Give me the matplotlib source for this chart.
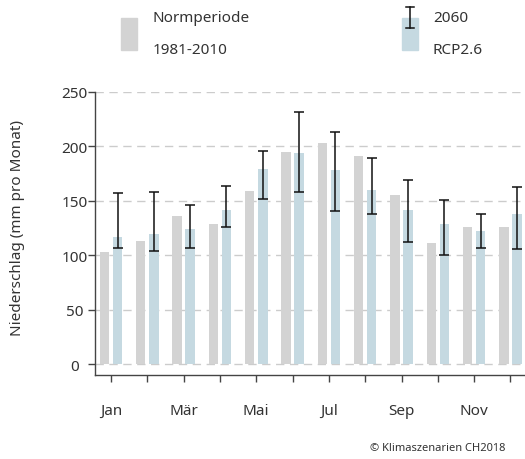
import numpy as np
import matplotlib
matplotlib.use('Agg')
import matplotlib.pyplot as plt
from matplotlib.patches import Rectangle
from matplotlib.lines import Line2D

plt.rcParams['font.family'] = ['Noto Sans', 'DejaVu Sans']

# ------------------------------------------------------------
# Data (mm pro Monat)
# ------------------------------------------------------------
months = np.arange(1, 13)
month_labels = ['Jan', '', 'Mär', '', 'Mai', '', 'Jul', '', 'Sep', '', 'Nov', '']
norm_1981_2010 = [103, 113, 136, 129, 159, 195, 203, 191, 155, 111, 126, 126]
rcp26_2060 = [117, 120, 124, 142, 179, 194, 178, 160, 142, 129, 122, 138]
rcp26_low = [107, 104, 107, 126, 152, 158, 141, 138, 112, 100, 107, 106]
rcp26_high = [157, 158, 146, 164, 196, 232, 213, 189, 169, 151, 138, 163]

GREY = '#d3d3d3'
BLUE = '#c5d9e1'
TXT = '#333333'
FS = 11

fig = plt.figure(figsize=(5.25, 4.6), dpi=100)
ax = fig.add_axes([95/525, 1 - 376/460, 430/525, 283/460])

w = 0.26
ax.bar(months - 0.18, norm_1981_2010, width=w, color=GREY, zorder=2)
ax.bar(months + 0.18, rcp26_2060, width=w, color=BLUE, zorder=2)

lo = np.array(rcp26_2060) - np.array(rcp26_low)
hi = np.array(rcp26_high) - np.array(rcp26_2060)
ax.errorbar(months + 0.18, rcp26_2060, yerr=[lo, hi], fmt='none',
            ecolor='#111111', elinewidth=1.1, capsize=3.8, capthick=1.1, zorder=3)

ax.set_xlim(0.56, 12.4)
ax.set_ylim(-9.8, 250)
ax.set_yticks([0, 50, 100, 150, 200, 250])
ax.set_xticks(months)
ax.set_xticklabels(month_labels)

ax.yaxis.grid(True, color='#cccccc', linestyle=(0, (6, 4)), linewidth=1, zorder=0)
ax.set_axisbelow(True)
for s in ['top', 'right']:
    ax.spines[s].set_visible(False)
for s in ['left', 'bottom']:
    ax.spines[s].set_color('#444444')
    ax.spines[s].set_linewidth(1)

ax.tick_params(axis='both', direction='out', length=5, width=1, color='#444444',
               labelcolor=TXT, labelsize=FS)
ax.tick_params(axis='x', pad=15)
ax.tick_params(axis='y', pad=9.5)
for t in ax.get_yticklabels():
    t.set_ha('center')

ax.set_ylabel('Niederschlag (mm pro Monat)', fontsize=FS, color=TXT)
ax.yaxis.set_label_coords(-0.163, 0.523)

# ------------------------------------------------------------
# Legend (drawn by hand in figure coords)
# ------------------------------------------------------------
fig.add_artist(Rectangle((121/525, 1 - 51/460), 16/525, 32/460,
                         transform=fig.transFigure, color=GREY))
fig.add_artist(Rectangle((402/525, 1 - 51/460), 16/525, 32/460,
                         transform=fig.transFigure, color=BLUE))
ex = 410/525
fig.add_artist(Line2D([ex, ex], [1 - 8/460, 1 - 29/460], transform=fig.transFigure,
                      color='#111111', lw=1.1))
for yy in [8, 29]:
    fig.add_artist(Line2D([ex - 3.8/525, ex + 3.8/525], [1 - yy/460] * 2,
                          transform=fig.transFigure, color='#111111', lw=1.1))

fig.text(153/525, 1 - 19/460, 'Normperiode', fontsize=FS, color=TXT, va='center')
fig.text(153/525, 1 - 50/460, '1981-2010', fontsize=FS, color=TXT, va='center')
fig.text(433/525, 1 - 19/460, '2060', fontsize=FS, color=TXT, va='center')
fig.text(433/525, 1 - 50/460, 'RCP2.6', fontsize=FS, color=TXT, va='center')

fig.text(505/525, 1 - 449/460, '© Klimaszenarien CH2018', fontsize=8, color=TXT,
         ha='right', va='center')

fig.savefig('out.png', dpi=100, facecolor='white')
plt.close()
